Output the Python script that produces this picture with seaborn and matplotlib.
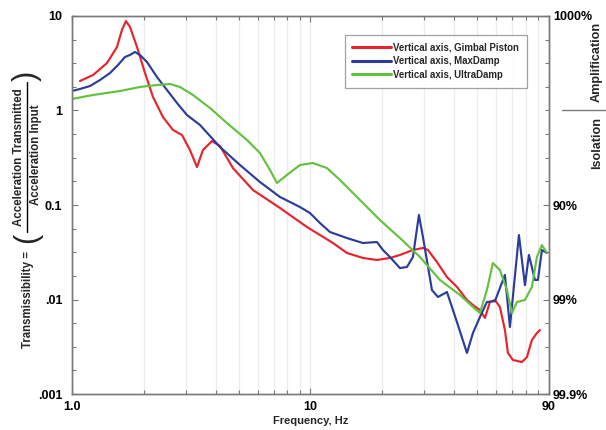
import matplotlib.pyplot as plt
import matplotlib.ticker as mticker
from matplotlib.lines import Line2D
import numpy as np
import pandas as pd
import seaborn as sns


SERIES = ["Vertical axis, Gimbal Piston", "Vertical axis, MaxDamp", "Vertical axis, UltraDamp"]
COLORS = ["#e8232b", "#2a3d9b", "#62c23d"]

GIMBAL_FREQ = [1.08, 1.225, 1.402, 1.544, 1.62, 1.684, 1.751, 1.873, 2.024, 2.186,
               2.407, 2.651, 2.893, 3.124, 3.343, 3.542, 3.864, 4.174, 4.732, 5.741,
               7.449, 9.667, 12.43, 14.22, 16.6, 19.0, 21.54, 23.73, 26.9, 29.63,
               31.1, 33.92, 37.36, 41.14, 45.32, 48.02, 51.38, 53.93, 56.57, 59.37,
               62.3, 65.39, 67.32, 70.65, 77.06, 80.88, 84.87, 89.07, 91.69]
GIMBAL_T = [2.05, 2.37, 3.18, 4.70, 7.11, 8.85, 7.65, 4.70, 2.49, 1.39,
            0.853, 0.622, 0.55, 0.382, 0.252, 0.382, 0.475, 0.421, 0.246, 0.144,
            0.093, 0.0585, 0.0396, 0.0311, 0.0275, 0.0262, 0.0275, 0.0296, 0.0334, 0.0351,
            0.0334, 0.0249, 0.0173, 0.0136, 0.00988, 0.00875, 0.00774, 0.00637, 0.00941, 0.00988,
            0.00833, 0.00475, 0.00272, 0.00229, 0.00218, 0.00246, 0.00373, 0.00442, 0.00475]

MAXDAMP_FREQ = [1.0, 1.08, 1.19, 1.31, 1.443, 1.559, 1.668, 1.751, 1.837, 1.928,
                2.063, 2.272, 2.502, 2.756, 3.035, 3.441, 4.174, 5.063, 6.142, 7.449,
                9.036, 9.952, 10.96, 12.07, 14.22, 16.6, 19.0, 20.14, 21.54, 23.73,
                25.39, 26.9, 28.5, 29.63, 32.32, 34.25, 37.36, 41.14, 45.32, 48.02,
                51.38, 54.95, 59.37, 65.39, 68.63, 74.86, 79.33, 82.45, 87.37, 89.94,
                93.45, 98.08]
MAXDAMP_T = [1.608, 1.689, 1.816, 2.10, 2.49, 3.03, 3.68, 3.87, 4.16, 3.87,
             3.26, 2.26, 1.648, 1.201, 0.896, 0.703, 0.411, 0.265, 0.175, 0.1216,
             0.0952, 0.0823, 0.0645, 0.0518, 0.0447, 0.0396, 0.0406, 0.0334, 0.0282, 0.0215,
             0.0221, 0.0282, 0.0784, 0.0459, 0.0126, 0.01063, 0.012, 0.00578, 0.00272, 0.00442,
             0.00653, 0.00941, 0.0096, 0.0182, 0.00512, 0.0481, 0.0142, 0.0296, 0.0161, 0.0161,
             0.0334, 0.0311]

ULTRA_FREQ = [1.0, 1.225, 1.59, 1.928, 2.272, 2.576, 2.837, 3.216, 3.79, 4.466,
              5.417, 6.142, 6.765, 7.237, 7.97, 9.036, 10.24, 11.73, 13.3, 16.13,
              19.56, 23.73, 28.78, 34.91, 42.36, 48.02, 51.38, 54.95, 58.23, 62.3,
              66.67, 69.97, 73.42, 79.33, 84.87, 89.07, 93.45, 98.08]
ULTRA_T = [1.324, 1.459, 1.608, 1.773, 1.862, 1.908, 1.773, 1.459, 1.063, 0.737,
           0.487, 0.355, 0.235, 0.171, 0.208, 0.265, 0.278, 0.246, 0.184, 0.1129,
           0.0694, 0.0447, 0.0282, 0.0161, 0.01116, 0.00833, 0.0072, 0.0126, 0.0243, 0.0205,
           0.0126, 0.0072, 0.00941, 0.00988, 0.0136, 0.0282, 0.0377, 0.0311]

X_TICKS = [1, 10, 100]
X_TICK_LABELS = ["1.0", "10", "90"]
Y_TICKS = [0.001, 0.01, 0.1, 1, 10]
Y_TICK_LABELS = [".001", ".01", "0.1", "1", "10"]
RIGHT_TICKS = [0.001, 0.01, 0.1, 10]
RIGHT_TICK_LABELS = ["99.9%", "99%", "90%", "1000%"]

W, H = 606, 430


def build_frame():
    parts = []
    for name, freq, vals in zip(SERIES, [GIMBAL_FREQ, MAXDAMP_FREQ, ULTRA_FREQ],
                                [GIMBAL_T, MAXDAMP_T, ULTRA_T]):
        parts.append(pd.DataFrame({"freq": freq, "trans": vals, "series": name}))
    return pd.concat(parts, ignore_index=True)


def setup_style():
    sns.set_theme(style="ticks")
    plt.rcParams["font.family"] = ["Liberation Sans", "DejaVu Sans"]
    plt.rcParams["font.weight"] = "bold"
    plt.rcParams["axes.edgecolor"] = "#7a7a7a"


def style_axis(ax):
    for spine in ax.spines.values():
        spine.set_color("#7a7a7a")
        spine.set_linewidth(1.0)
    ax.tick_params(which="both", direction="in", color="#7a7a7a", width=0.8,
                   labelsize=9, labelcolor="black")
    ax.tick_params(which="major", length=4)
    ax.tick_params(which="minor", length=3)


def fig_text(fig, px, py, s, **kw):
    # place text by pixel position measured from the top-left corner
    return fig.text(px / W, 1 - py / H, s, ha="center", va="center", **kw)


def draw_ylabel(fig):
    fig_text(fig, 27.5, 299, "Transmissibility =", rotation=90, fontsize=8.3, fontweight="bold")
    fig_text(fig, 27, 238, "(", rotation=90, fontsize=22, fontweight="normal")
    fig_text(fig, 27, 76, ")", rotation=90, fontsize=22, fontweight="normal")
    fig_text(fig, 19.5, 157, "Acceleration Transmitted", rotation=90, fontsize=8.3, fontweight="bold")
    fig_text(fig, 35.5, 155, "Acceleration Input", rotation=90, fontsize=8.3, fontweight="bold")
    fig.add_artist(Line2D([27 / W, 27 / W], [1 - 232 / H, 1 - 82 / H], transform=fig.transFigure,
                          color="black", linewidth=1.0))


def main():
    setup_style()
    df = build_frame()

    fig = plt.figure(figsize=(W / 100, H / 100), dpi=100)
    ax = fig.add_axes([0.1188, 0.0837, 0.787, 0.8791])

    sns.lineplot(data=df, x="freq", y="trans", hue="series", palette=COLORS,
                 hue_order=SERIES, sort=False, estimator=None, linewidth=1.55,
                 legend=False, ax=ax)

    ax.set_xscale("log")
    ax.set_yscale("log")
    ax.set_xlim(1, 100)
    ax.set_ylim(0.001, 10)

    ax.set_xticks(X_TICKS, X_TICK_LABELS)
    ax.xaxis.set_minor_locator(mticker.LogLocator(base=10, subs=np.arange(2, 10)))
    ax.xaxis.set_minor_formatter(mticker.NullFormatter())
    ax.set_yticks(Y_TICKS, Y_TICK_LABELS)
    ax.yaxis.set_minor_locator(mticker.FixedLocator([10 ** (k / 4) for k in range(-12, 5) if k % 4]))
    ax.yaxis.set_minor_formatter(mticker.NullFormatter())
    ax.grid(True, which="both", axis="x", color="#ececec", linewidth=0.9)
    ax.grid(False, axis="y")
    ax.set_axisbelow(True)
    style_axis(ax)
    ax.tick_params(axis="x", which="both", top=True, pad=5)
    ax.tick_params(axis="y", which="both", pad=7)
    ax.set_xlabel("Frequency, Hz", fontsize=8, fontweight="bold", labelpad=2)
    ax.set_ylabel("")

    ax2 = ax.twinx()
    ax2.set_yscale("log")
    ax2.set_ylim(0.001, 10)
    ax2.set_yticks(RIGHT_TICKS, RIGHT_TICK_LABELS)
    ax2.yaxis.set_minor_locator(mticker.FixedLocator([10 ** (k / 4) for k in range(-12, 5) if k % 4 or k == 0]))
    ax2.yaxis.set_minor_formatter(mticker.NullFormatter())
    style_axis(ax2)
    ax2.tick_params(axis="y", which="both", pad=3)

    handles = [Line2D([0], [0], color=c, linewidth=2.2) for c in COLORS]
    leg = ax.legend(handles, SERIES, loc="upper right", bbox_to_anchor=(0.954, 0.95),
                    borderaxespad=0, fancybox=False, frameon=True, handlelength=4.0,
                    handletextpad=0.3, labelspacing=0.38, borderpad=0.8,
                    prop={"size": 6.9, "weight": "bold"})
    leg.get_frame().set_edgecolor("#8a8a8a")
    leg.get_frame().set_linewidth(0.9)

    draw_ylabel(fig)
    fig_text(fig, 597, 62, "Amplification", rotation=90, fontsize=9.1, fontweight="bold")
    fig_text(fig, 597, 143, "Isolation", rotation=90, fontsize=9.1, fontweight="bold")
    fig.add_artist(Line2D([562 / W, 1.0], [1 - 110 / H, 1 - 110 / H], transform=fig.transFigure,
                          color="#7a7a7a", linewidth=1.0))

    fig.savefig("out.png", dpi=100)
    plt.close(fig)


if __name__ == "__main__":
    main()
